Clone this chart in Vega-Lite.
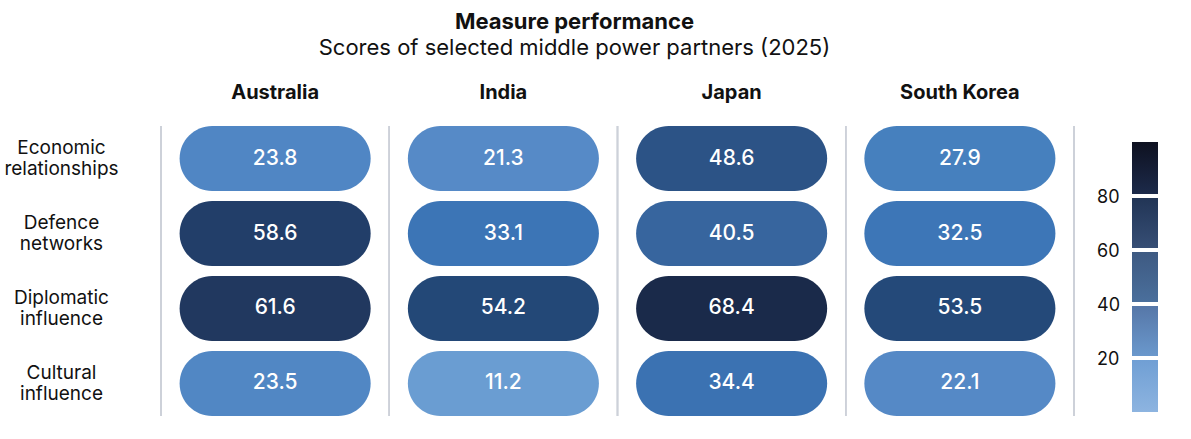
{
  "$schema": "https://vega.github.io/schema/vega-lite/v6.json",
  "width": 913,
  "height": 290,
  "autosize": "none",
  "padding": {"left": 161, "top": 126, "right": 117, "bottom": 23},
  "background": "white",
  "title": {
    "text": "Measure performance",
    "subtitle": "Scores of selected middle power partners (2025)",
    "anchor": "middle",
    "dx": -43,
    "font": "Inter",
    "fontSize": 22,
    "fontWeight": 700,
    "color": "#111111",
    "subtitleFont": "Inter",
    "subtitleFontSize": 22,
    "subtitleColor": "#111111",
    "subtitlePadding": 4,
    "offset": 22
  },
  "config": {"view": {"stroke": null}, "font": "Inter"},
  "data": {
    "values": [
      {"country": "Australia", "measure": "Economic relationships", "score": 23.8},
      {"country": "Australia", "measure": "Defence networks", "score": 58.6},
      {"country": "Australia", "measure": "Diplomatic influence", "score": 61.6},
      {"country": "Australia", "measure": "Cultural influence", "score": 23.5},
      {"country": "India", "measure": "Economic relationships", "score": 21.3},
      {"country": "India", "measure": "Defence networks", "score": 33.1},
      {"country": "India", "measure": "Diplomatic influence", "score": 54.2},
      {"country": "India", "measure": "Cultural influence", "score": 11.2},
      {"country": "Japan", "measure": "Economic relationships", "score": 48.6},
      {"country": "Japan", "measure": "Defence networks", "score": 40.5},
      {"country": "Japan", "measure": "Diplomatic influence", "score": 68.4},
      {"country": "Japan", "measure": "Cultural influence", "score": 34.4},
      {"country": "South Korea", "measure": "Economic relationships", "score": 27.9},
      {"country": "South Korea", "measure": "Defence networks", "score": 32.5},
      {"country": "South Korea", "measure": "Diplomatic influence", "score": 53.5},
      {"country": "South Korea", "measure": "Cultural influence", "score": 22.1}
    ]
  },
  "encoding": {
    "x": {
      "field": "country",
      "type": "nominal",
      "sort": ["Australia", "India", "Japan", "South Korea"],
      "scale": {"paddingInner": 0, "paddingOuter": 0},
      "axis": {
        "orient": "top",
        "title": null,
        "domain": false,
        "ticks": false,
        "grid": false,
        "labelAngle": 0,
        "labelFont": "Inter",
        "labelFontSize": 20,
        "labelFontWeight": 700,
        "labelColor": "#111111",
        "labelPadding": 24
      }
    }
  },
  "layer": [
    {
      "mark": {"type": "rule", "color": "#cdd1d9", "strokeWidth": 1.5},
      "encoding": {
        "x": {"field": "country", "type": "nominal", "sort": ["Australia", "India", "Japan", "South Korea"], "bandPosition": 0}
      }
    },
    {
      "transform": [{"filter": "datum.country === 'South Korea'"}],
      "mark": {"type": "rule", "color": "#cdd1d9", "strokeWidth": 1.5},
      "encoding": {
        "x": {"field": "country", "type": "nominal", "sort": ["Australia", "India", "Japan", "South Korea"], "bandPosition": 1}
      }
    },
    {
      "mark": {"type": "rect", "width": {"band": 0.837}, "cornerRadius": 32.5},
      "encoding": {
        "y": {
          "field": "measure",
          "type": "nominal",
          "sort": ["Economic relationships", "Defence networks", "Diplomatic influence", "Cultural influence"],
          "scale": {"paddingInner": 0.1333, "paddingOuter": 0},
          "axis": {
            "title": null,
            "domain": false,
            "ticks": false,
            "grid": false,
            "labelAlign": "center",
            "labelBaseline": "middle",
            "labelPadding": 100,
            "labelOffset": -10.5,
            "labelFont": "Inter",
            "labelFontSize": 19,
            "labelLineHeight": 21,
            "labelColor": "#111111",
            "labelLimit": 0,
            "labelExpr": "split(datum.label, ' ')"
          }
        },
        "color": {
          "field": "score",
          "type": "quantitative",
          "scale": {
            "domain": [0, 11.2, 22, 27.9, 33, 40.5, 48.6, 54, 61.6, 68.4, 100],
            "range": ["#8fb6e1", "#6a9dd2", "#5589c6", "#4680be", "#3c75b6", "#37659e", "#2c5386", "#234878", "#21385f", "#1a2a4a", "#0e111c"],
            "interpolate": "rgb"
          },
          "legend": {
            "orient": "none",
            "legendX": 971,
            "legendY": 16,
            "direction": "vertical",
            "type": "gradient",
            "title": null,
            "gradientLength": 270,
            "gradientThickness": 26,
            "gradientStrokeWidth": 0,
            "values": [20, 40, 60, 80],
            "labelOffset": -61,
            "labelFont": "Inter",
            "labelFontSize": 18,
            "labelColor": "#111111",
            "labelOverlap": false,
            "padding": 0,
            "encode": {
              "labels": {"update": {"dy": {"value": 2}}},
              "gradient": {
                "update": {
                  "fill": {
                    "value": {
                      "gradient": "linear",
                      "x1": 0, "y1": 1, "x2": 0, "y2": 0,
                      "stops": [
                        {"offset": 0, "color": "#8db4e0"},
                        {"offset": 0.192, "color": "#709fd4"},
                        {"offset": 0.192, "color": "#ffffff"},
                        {"offset": 0.207, "color": "#ffffff"},
                        {"offset": 0.207, "color": "#6a98cc"},
                        {"offset": 0.392, "color": "#5677a8"},
                        {"offset": 0.392, "color": "#ffffff"},
                        {"offset": 0.407, "color": "#ffffff"},
                        {"offset": 0.407, "color": "#4a6f9c"},
                        {"offset": 0.592, "color": "#3e5a82"},
                        {"offset": 0.592, "color": "#ffffff"},
                        {"offset": 0.607, "color": "#ffffff"},
                        {"offset": 0.607, "color": "#364e75"},
                        {"offset": 0.792, "color": "#223556"},
                        {"offset": 0.792, "color": "#ffffff"},
                        {"offset": 0.807, "color": "#ffffff"},
                        {"offset": 0.807, "color": "#1c2a4a"},
                        {"offset": 1, "color": "#0e1120"}
                      ]
                    }
                  }
                }
              }
            }
          }
        }
      }
    },
    {
      "mark": {"type": "text", "color": "white", "font": "Inter", "fontSize": 21, "fontWeight": 500},
      "encoding": {
        "y": {"field": "measure", "type": "nominal", "sort": ["Economic relationships", "Defence networks", "Diplomatic influence", "Cultural influence"]},
        "text": {"field": "score", "type": "quantitative", "format": ".1f"}
      }
    }
  ]
}
